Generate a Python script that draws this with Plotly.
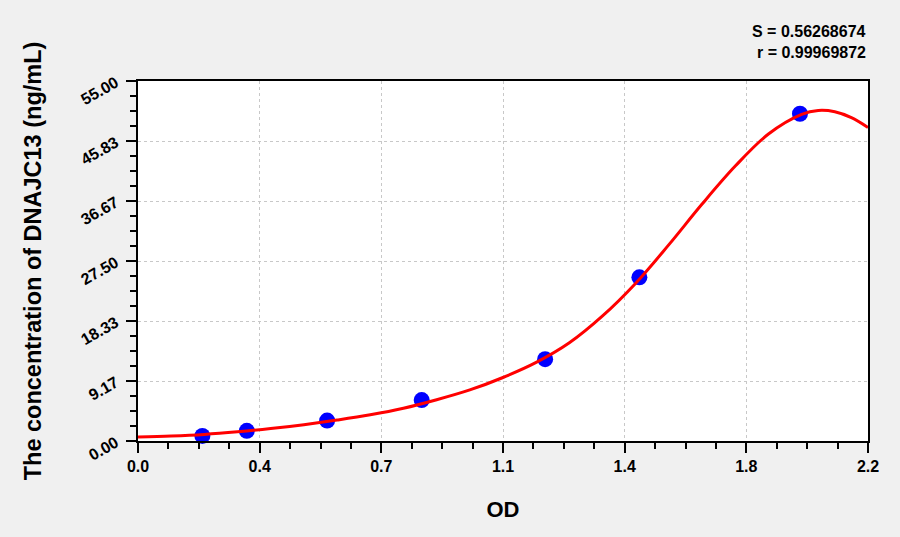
import plotly.graph_objects as go

# Standard points (OD, concentration)
std_od = [0.194, 0.328, 0.570, 0.855, 1.227, 1.511, 1.995]
std_conc = [0.78, 1.56, 3.12, 6.25, 12.5, 25.0, 50.0]

# Fitted curve
curve_od = [0.0, 0.1, 0.2, 0.3, 0.4, 0.5, 0.6, 0.7, 0.8, 0.9, 1.0, 1.1, 1.2,
            1.3, 1.4, 1.5, 1.6, 1.7, 1.8, 1.9, 2.0, 2.05, 2.1, 2.15, 2.2]
curve_conc = [0.6, 0.75, 1.0, 1.4, 1.9, 2.5, 3.2, 4.0, 5.0, 6.3, 7.8, 9.7, 12.0,
              15.0, 19.1, 24.1, 30.0, 36.2, 42.0, 46.9, 49.9, 50.5, 50.3, 49.4, 47.9]

x_ticktext = ["0.0", "0.4", "0.7", "1.1", "1.4", "1.8", "2.2"]
y_ticktext = ["0.00", "9.17", "18.33", "27.50", "36.67", "45.83", "55.00"]

x_max = 2.2
y_max = 55.0
x_tickvals = [x_max * i / 6 for i in range(7)]
y_tickvals = [y_max * i / 6 for i in range(7)]

FONT = "Arial, Liberation Sans, sans-serif"

fig = go.Figure()
fig.add_trace(go.Scatter(
    x=std_od, y=std_conc, mode="markers",
    marker=dict(color="#0000FF", size=16, line=dict(width=0)),
    showlegend=False, cliponaxis=False))
fig.add_trace(go.Scatter(
    x=curve_od, y=curve_conc, mode="lines",
    line=dict(color="#FF0000", width=3, shape="spline", smoothing=1.0),
    showlegend=False))

axis_common = dict(
    showline=True, linecolor="black", linewidth=2, mirror=True,
    ticks="outside", ticklen=10, tickwidth=1.5, tickcolor="black",
    showgrid=True, gridcolor="#c8c8c8", griddash="dot", gridwidth=1,
    zeroline=False,
    tickfont=dict(family=FONT, size=16, color="black", weight="bold"),
)

fig.update_xaxes(
    range=[0, x_max], tickmode="array", tickvals=x_tickvals, ticktext=x_ticktext,
    minor=dict(ticks="outside", ticklen=6, tickwidth=1.5, tickcolor="black",
               tick0=0, dtick=x_max / 24, showgrid=False),
    title=dict(text="OD", font=dict(family=FONT, size=22, color="black", weight="bold"),
               standoff=27),
    **axis_common)
fig.update_yaxes(
    range=[0, y_max], tickmode="array", tickvals=y_tickvals, ticktext=y_ticktext,
    tickangle=-30, ticklabelstandoff=7,
    minor=dict(ticks="outside", ticklen=6, tickwidth=1.5, tickcolor="black",
               tick0=0, dtick=y_max / 24, showgrid=False),
    title=dict(text="The concentration of DNAJC13 (ng/mL)",
               font=dict(family=FONT, size=23.5, color="black", weight="bold"),
               standoff=30),
    **axis_common)

fig.add_annotation(x=1, y=1, xref="paper", yref="paper", xanchor="right", yanchor="middle",
                   xshift=0, yshift=50, showarrow=False, align="right",
                   text="S = 0.56268674",
                   font=dict(family=FONT, size=16, color="black", weight="bold"))
fig.add_annotation(x=1, y=1, xref="paper", yref="paper", xanchor="right", yanchor="middle",
                   xshift=0, yshift=29, showarrow=False, align="right",
                   text="r = 0.99969872",
                   font=dict(family=FONT, size=16, color="black", weight="bold"))

fig.update_layout(
    width=900, height=537,
    margin=dict(l=138, r=32, t=81, b=96),
    paper_bgcolor="#F0F0F0", plot_bgcolor="white",
    showlegend=False,
)

fig.write_html("out.html", config={"displayModeBar": False},
               post_script="document.body.style.margin='0';document.body.style.padding='0';")
